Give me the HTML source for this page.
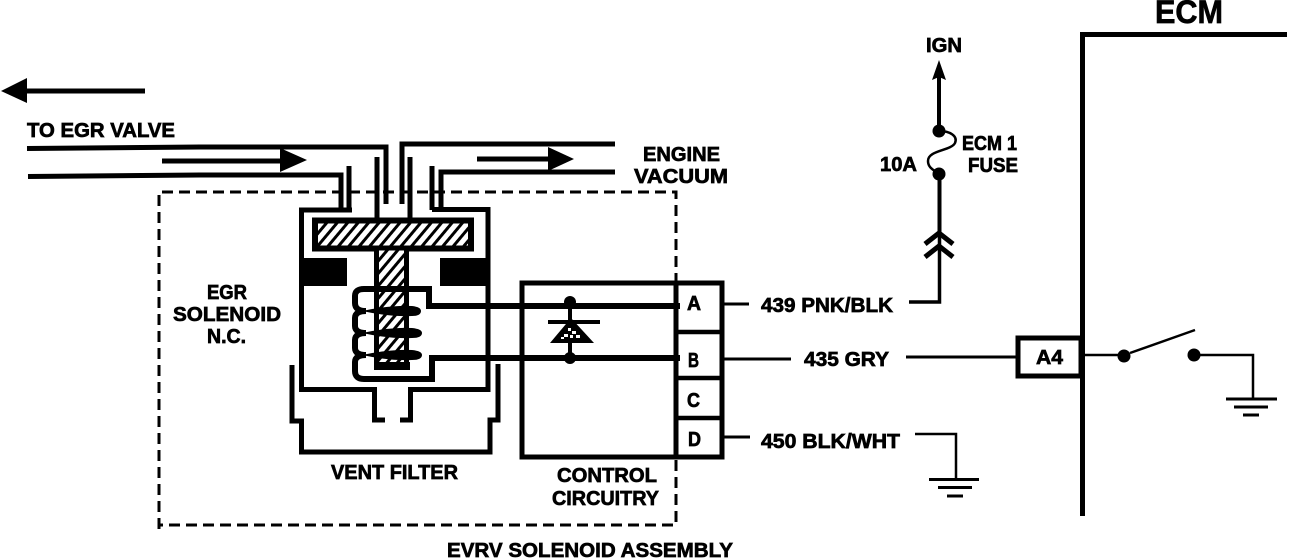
<!DOCTYPE html>
<html><head><meta charset="utf-8"><style>
html,body{margin:0;padding:0;background:#fff;width:1312px;height:560px;overflow:hidden}
svg{display:block}
text{font-family:"Liberation Sans",sans-serif;font-weight:bold;fill:#000;stroke:#000;stroke-width:.7;font-size:20px}
</style></head><body>
<svg width="1312" height="560" viewBox="0 0 1312 560" xmlns="http://www.w3.org/2000/svg">
<defs>
<pattern id="h" width="8" height="8" patternUnits="userSpaceOnUse" patternTransform="rotate(40)">
<rect width="8" height="8" fill="#fff"/><rect width="3" height="8" fill="#000"/>
</pattern>
</defs>
<rect width="1312" height="560" fill="#fff"/>
<g fill="none" stroke="#000" stroke-linejoin="miter" stroke-linecap="butt">
<!-- dashed enclosure -->
<path d="M159 529V192H676V525H159" stroke-width="3" stroke-dasharray="11 6"/>
<!-- main arrow -->
<path d="M24 91H145" stroke-width="5"/>
<!-- left pipe -->
<path d="M27 148.500L200 147H386V204" stroke-width="5"/>
<path d="M28 176.500L200 175H341V208" stroke-width="5"/>
<path d="M162 161H285" stroke-width="5"/>
<!-- right pipe -->
<path d="M615 144H402V204" stroke-width="5"/>
<path d="M615 172H441V208" stroke-width="5"/>
<path d="M477 159H552" stroke-width="5"/>
<!-- rods -->
<path d="M349 166V210M377 157V218M410 157V218M432 166V210" stroke-width="5"/>
<!-- body -->
<path d="M352 210H301.500V389.500H374.500V420H385" stroke-width="5"/>
<path d="M432 209.500H488V389.500H410.500V420H400" stroke-width="5"/>
<!-- filter cup -->
<path d="M292 365V421H301.500V452H490V420H498V364" stroke-width="5"/>
<!-- plate -->
<rect x="315" y="220.500" width="156" height="28" fill="url(#h)" stroke-width="6"/>
<!-- stem -->
<rect x="376.500" y="248" width="30" height="118" fill="url(#h)" stroke-width="5"/>
<!-- coil -->
<path d="M680 306H429V289H364Q355 289 355 296V303Q355 311 366 311Q355 311 355 318V326Q355 333 366 333Q355 333 355 340V348Q355 355 366 355Q355 355 355 362V371Q355 379 364 379H432V358H680" stroke-width="6"/>
<!-- control box -->
<rect x="522" y="283" width="200" height="174" stroke-width="5"/>
<path d="M676 283V457" stroke-width="5"/>
<path d="M676 332H722M676 378H722M676 418H722" stroke-width="4.500"/>
<!-- diode -->
<path d="M570 302V322M570 342V358" stroke-width="4"/>
<path d="M548 322H600" stroke-width="4"/>
<!-- pin wires -->
<path d="M724 304H749M724 359H791M724 437H750" stroke-width="3"/>
<path d="M909 302H939.500V235" stroke-width="3.500"/>
<path d="M906 357H1017" stroke-width="3"/>
<!-- fuse / IGN -->
<path d="M939.500 172V234" stroke-width="4"/>
<path d="M939 131V76" stroke-width="4"/>
<path d="M939 131C950 131 958 136 955 143C951 151 928 150 928 161C928 168 934 170 939 174" stroke-width="2.500"/>
<path d="M925 244L939 233L953 244M925 257L939 246L953 257" stroke-width="5"/>
<!-- ground 1 -->
<path d="M915 434H956V479" stroke-width="2.500"/>
<path d="M929 479.500H979M938 487.500H972M947 496H963" stroke-width="3"/>
<!-- ECM -->
<path d="M1287 34.500H1082.500V516" stroke-width="5"/>
<rect x="1018" y="338" width="63" height="38" stroke-width="5"/>
<path d="M1085 355H1124" stroke-width="2.500"/>
<path d="M1130 353L1195 330" stroke-width="2.500"/>
<path d="M1194 355H1253V399" stroke-width="2.500"/>
<path d="M1226 399H1277M1234 407H1268M1243 415H1259" stroke-width="3"/>
</g>
<!-- coil turns -->
<g fill="#000">
<path d="M362 311Q390 305 412 306Q421 307 421 311Q421 316 412 316Q390 317 362 311Z"/>
<path d="M362 333Q390 327 412 328Q422 329 422 333Q422 338 412 338Q390 339 362 333Z"/>
<path d="M362 355Q390 349 412 350Q422 351 422 355Q422 360 412 360Q390 361 362 355Z"/>
<rect x="374" y="362" width="36" height="8"/>
<!-- solid blocks -->
<rect x="300" y="258" width="47" height="28"/>
<rect x="440" y="258" width="48" height="28"/>
<!-- arrowheads -->
<polygon points="1,91 27,78 27,103"/>
<polygon points="280,148 307,160 280,172"/>
<polygon points="548,147 574,159 548,171"/>
<polygon points="939,60 946,80 939,77 932,80"/>
<!-- dots -->
<circle cx="570" cy="302" r="6"/>
<circle cx="570" cy="358" r="6"/>
<circle cx="939" cy="131" r="6.500"/>
<circle cx="939" cy="174" r="6.500"/>
<circle cx="1124" cy="356" r="6.500"/>
<circle cx="1194" cy="355" r="6.500"/>
<!-- diode triangle -->
<polygon points="571,318 594,343 550,343"/>
</g>
<g fill="#fff">
<rect x="568" y="328" width="3" height="3"/><rect x="572" y="331" width="4" height="3"/>
<rect x="564" y="334" width="4" height="3"/><rect x="570" y="335" width="3" height="3"/>
<rect x="576" y="335" width="4" height="3"/><rect x="561" y="337" width="3" height="2"/>
</g>
<!-- labels -->
<text x="27" y="137" textLength="148" lengthAdjust="spacingAndGlyphs">TO EGR VALVE</text>
<text x="643" y="161" textLength="77" lengthAdjust="spacingAndGlyphs">ENGINE</text>
<text x="634" y="183" textLength="94" lengthAdjust="spacingAndGlyphs">VACUUM</text>
<text x="207" y="299" textLength="40" lengthAdjust="spacingAndGlyphs">EGR</text>
<text x="173" y="321" textLength="108" lengthAdjust="spacingAndGlyphs">SOLENOID</text>
<text x="207" y="343" textLength="39" lengthAdjust="spacingAndGlyphs">N.C.</text>
<text x="331" y="479" textLength="127" lengthAdjust="spacingAndGlyphs">VENT FILTER</text>
<text x="557" y="482" textLength="100" lengthAdjust="spacingAndGlyphs">CONTROL</text>
<text x="552" y="505" textLength="107" lengthAdjust="spacingAndGlyphs">CIRCUITRY</text>
<text x="447" y="557" textLength="286" lengthAdjust="spacingAndGlyphs">EVRV SOLENOID ASSEMBLY</text>
<text x="687" y="310" textLength="14" lengthAdjust="spacingAndGlyphs">A</text>
<text x="688" y="367" textLength="11" lengthAdjust="spacingAndGlyphs">B</text>
<text x="687" y="407" textLength="13" lengthAdjust="spacingAndGlyphs">C</text>
<text x="688" y="446" textLength="13" lengthAdjust="spacingAndGlyphs">D</text>
<text x="761" y="312" textLength="132" lengthAdjust="spacingAndGlyphs">439 PNK/BLK</text>
<text x="804" y="366" textLength="85" lengthAdjust="spacingAndGlyphs">435 GRY</text>
<text x="761" y="448" textLength="139" lengthAdjust="spacingAndGlyphs">450 BLK/WHT</text>
<text x="926" y="52" textLength="36" lengthAdjust="spacingAndGlyphs">IGN</text>
<text x="962" y="150" textLength="55" lengthAdjust="spacingAndGlyphs">ECM 1</text>
<text x="968" y="172" textLength="50" lengthAdjust="spacingAndGlyphs">FUSE</text>
<text x="880" y="171" textLength="37" lengthAdjust="spacingAndGlyphs">10A</text>
<text x="1036" y="364" textLength="27" lengthAdjust="spacingAndGlyphs">A4</text>
<text x="1155" y="23" textLength="68" lengthAdjust="spacingAndGlyphs" style="font-size:32px">ECM</text>
</svg>
</body></html>
